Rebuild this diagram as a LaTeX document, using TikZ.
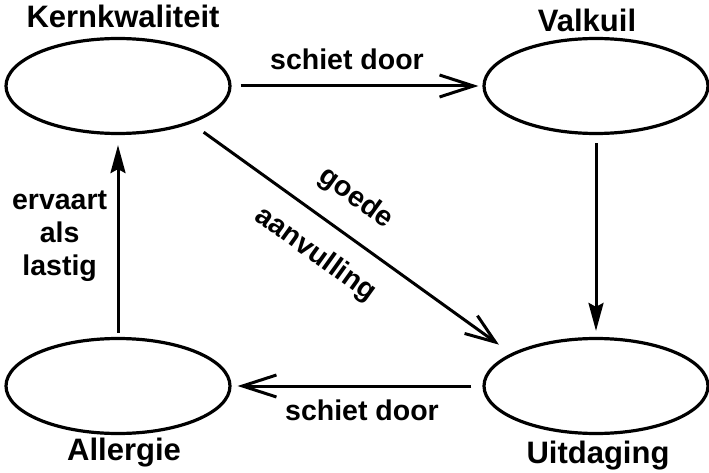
\documentclass[tikz,border=0pt]{standalone}
\usepackage{fontspec}
\setmainfont{Liberation Sans}
\usetikzlibrary{arrows.meta,shapes.geometric}

\tikzset{
  quadrant/.style={draw, ellipse, line width=3.2pt, minimum width=224pt, minimum height=95pt, inner sep=0pt},
  title/.style={font=\fontsize{31}{34}\selectfont\bfseries, anchor=base},
  edgelabel/.style={font=\fontsize{28.5}{33}\selectfont\bfseries},
  flatarrow/.style={line width=3pt, -{Straight Barb[length=34pt,width=22pt,line width=3pt]}},
  steeparrow/.style={line width=3pt, -{Stealth[length=28pt,width=15pt,inset=4pt]}},
  diagarrow/.style={line width=3pt, -{Straight Barb[length=30pt,width=22pt,line width=3pt]}},
}

\begin{document}
\begin{tikzpicture}[x=1pt,y=1pt]
    \useasboundingbox (0,0) rectangle (709,472);

    \node[quadrant] (kern) at (118,386) {};
    \node[quadrant] (valkuil) at (596,386) {};
    \node[quadrant] (allergie) at (118,86) {};
    \node[quadrant] (uitdaging) at (596,86) {};

    \node[title] (kerntitle) at (123,444) {Kernkwaliteit};
    \node[title] (valkuiltitle) at (587,440) {Valkuil};
    \node[title] (allergietitle) at (124,12) {Allergie};
    \node[title] (uitdagingtitle) at (598,9) {Uitdaging};

    \draw[flatarrow, shorten <=9pt, shorten >=4pt] (kern) to node[edgelabel, pos=0.46, above=11pt] {schiet door} (valkuil);

    \draw[steeparrow, shorten <=8pt, shorten >=6pt] (valkuil) to (uitdaging);

    \draw[flatarrow, shorten <=11pt, shorten >=6pt] (uitdaging) to node[edgelabel, pos=0.48, below=9pt] {schiet door} (allergie);

    \draw[steeparrow, shorten <=4pt, shorten >=10pt] (allergie) to node[edgelabel, left=6pt, align=center] {ervaart\\als\\lastig} (kern);

    \draw[diagarrow, shorten <=15pt, shorten >=15pt] (kern.-27) to node[edgelabel, pos=0.45, sloped, above=17pt] {goede} node[edgelabel, pos=0.45, sloped, below=16pt] {aanvulling} (uitdaging.159);
\end{tikzpicture}
\end{document}
